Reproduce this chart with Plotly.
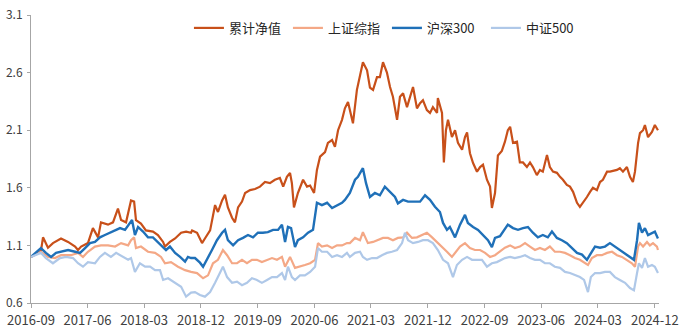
import plotly.graph_objects as go

# ---------------- data ----------------
fund_dates = ["2016-09-01","2016-10-19","2016-10-29","2016-11-22","2016-12-16","2017-01-24","2017-02-27","2017-04-02","2017-04-16","2017-05-01",
"2017-06-03","2017-06-27","2017-07-22","2017-08-05","2017-09-08","2017-10-02","2017-10-26","2017-11-10","2017-12-04","2017-12-28",
"2018-01-12","2018-01-21","2018-02-14","2018-03-10","2018-04-13","2018-05-07","2018-06-01","2018-06-10","2018-07-04","2018-07-29",
"2018-08-27","2018-09-20","2018-10-14","2018-10-19","2018-11-12","2018-12-06","2018-12-20","2019-01-14","2019-02-07","2019-02-21",
"2019-03-13","2019-03-27","2019-04-10","2019-04-30","2019-05-14","2019-05-29","2019-06-17","2019-07-02","2019-07-26","2019-08-19",
"2019-09-12","2019-10-06","2019-10-30","2019-11-23","2019-12-17","2020-01-02","2020-01-20","2020-02-04","2020-02-13","2020-02-23",
"2020-03-13","2020-04-07","2020-04-26","2020-05-11","2020-05-30","2020-06-13","2020-06-28","2020-07-22","2020-08-05","2020-08-25",
"2020-09-08","2020-09-23","2020-10-12","2020-10-26","2020-11-10","2020-11-24","2020-12-04","2020-12-23","2021-01-07","2021-01-21",
"2021-02-10","2021-02-24","2021-03-11","2021-03-30","2021-04-13","2021-04-28","2021-05-17","2021-06-01","2021-06-15","2021-07-05",
"2021-07-19","2021-08-03","2021-08-22","2021-09-05","2021-09-20","2021-10-09","2021-10-24","2021-11-07","2021-11-26","2021-12-11",
"2021-12-25","2022-01-14","2022-01-18","2022-02-07","2022-02-16","2022-02-26","2022-03-08","2022-03-27","2022-04-11","2022-04-25",
"2022-05-15","2022-05-29","2022-06-08","2022-06-22","2022-07-07","2022-07-26","2022-08-10","2022-08-24","2022-09-12","2022-09-27",
"2022-10-06","2022-10-21","2022-11-04","2022-11-23","2022-12-08","2022-12-22","2023-01-02","2023-01-16","2023-02-04","2023-02-18",
"2023-03-05","2023-03-24","2023-04-08","2023-04-22","2023-05-11","2023-05-26","2023-06-09","2023-06-29","2023-07-13","2023-07-28",
"2023-08-16","2023-08-31","2023-09-14","2023-10-03","2023-10-18","2023-11-02","2023-11-21","2023-12-05","2023-12-20","2024-01-08",
"2024-01-23","2024-02-06","2024-02-25","2024-03-11","2024-03-25","2024-04-14","2024-04-28","2024-05-13","2024-06-01","2024-06-15",
"2024-06-30","2024-07-19","2024-08-03","2024-08-17","2024-08-27","2024-09-11","2024-09-20","2024-10-05","2024-10-14","2024-10-29",
"2024-11-17","2024-12-01","2024-12-16"]
fund_values = [1.00,1.05,1.17,1.08,1.12,1.16,1.13,1.09,1.06,1.09,
1.12,1.25,1.17,1.30,1.28,1.30,1.42,1.32,1.30,1.49,
1.48,1.32,1.29,1.23,1.22,1.19,1.13,1.09,1.13,1.16,
1.21,1.22,1.21,1.23,1.21,1.12,1.16,1.23,1.45,1.39,
1.49,1.54,1.43,1.34,1.30,1.43,1.48,1.555,1.58,1.59,
1.61,1.65,1.64,1.67,1.685,1.61,1.695,1.73,1.64,1.43,
1.555,1.67,1.61,1.62,1.555,1.755,1.87,1.91,1.99,2.015,
1.955,2.10,2.19,2.29,2.345,2.22,2.16,2.45,2.56,2.69,
2.62,2.47,2.45,2.56,2.56,2.69,2.60,2.475,2.39,2.19,
2.39,2.42,2.30,2.39,2.475,2.29,2.335,2.36,2.275,2.25,
2.30,2.25,2.38,2.25,1.82,2.10,2.19,2.04,2.10,1.99,
1.93,2.04,2.08,1.90,1.815,1.74,1.78,1.80,1.67,1.61,
1.425,1.555,1.88,1.92,2.00,2.10,2.13,1.99,2.00,1.82,
1.82,1.78,1.82,1.78,1.71,1.755,1.74,1.885,1.78,1.74,
1.73,1.695,1.67,1.625,1.61,1.565,1.47,1.435,1.47,1.52,
1.565,1.60,1.58,1.65,1.67,1.74,1.74,1.745,1.755,1.77,
1.74,1.78,1.695,1.65,1.74,1.99,2.075,2.10,2.145,2.04,
2.085,2.145,2.10]

sh_dates = ["2016-09-01","2016-10-19","2016-11-22","2016-12-26","2017-01-24","2017-03-13","2017-04-16","2017-05-10","2017-06-03","2017-07-07",
"2017-08-05","2017-09-08","2017-10-12","2017-11-10","2017-12-14","2017-12-28","2018-01-12","2018-01-21","2018-02-14","2018-03-20",
"2018-04-23","2018-05-22","2018-06-10","2018-07-09","2018-08-12","2018-09-15","2018-10-14","2018-11-12","2018-12-11","2019-01-04",
"2019-01-28","2019-02-21","2019-03-17","2019-04-06","2019-04-30","2019-05-24","2019-06-17","2019-07-11","2019-08-04","2019-08-28",
"2019-09-21","2019-10-16","2019-11-09","2019-12-03","2019-12-27","2020-01-11","2020-02-04","2020-02-28","2020-03-23","2020-04-16",
"2020-05-11","2020-06-04","2020-06-18","2020-07-07","2020-08-01","2020-08-25","2020-09-18","2020-10-12","2020-11-05","2020-11-19",
"2020-12-14","2021-01-07","2021-01-21","2021-02-14","2021-03-11","2021-04-04","2021-04-28","2021-05-22","2021-06-15","2021-07-09",
"2021-08-03","2021-08-22","2021-09-15","2021-10-09","2021-11-02","2021-11-26","2021-12-21","2022-01-14","2022-02-07","2022-03-03",
"2022-03-27","2022-04-11","2022-05-05","2022-05-29","2022-06-22","2022-07-16","2022-08-10","2022-09-03","2022-09-27","2022-10-21",
"2022-11-14","2022-12-08","2023-01-02","2023-01-25","2023-02-18","2023-03-15","2023-04-08","2023-05-02","2023-05-26","2023-06-19",
"2023-07-13","2023-08-06","2023-08-31","2023-09-24","2023-10-18","2023-11-11","2023-12-05","2023-12-30","2024-01-13","2024-02-01",
"2024-02-25","2024-03-20","2024-04-14","2024-05-08","2024-06-01","2024-06-25","2024-07-19","2024-08-12","2024-08-27","2024-09-11",
"2024-09-20","2024-10-05","2024-10-24","2024-11-07","2024-11-22","2024-12-11","2024-12-16"]
sh_values = [1.00,1.045,1.00,0.99,1.015,1.015,1.035,1.00,1.045,1.09,
1.10,1.10,1.09,1.12,1.10,1.145,1.17,1.077,1.09,1.045,
1.035,1.00,0.945,0.955,0.915,0.885,0.87,0.86,0.815,0.84,
0.945,0.975,1.06,1.015,0.945,0.945,0.975,0.945,0.975,0.975,
0.955,0.975,0.99,0.975,1.00,0.915,1.00,0.905,0.915,0.93,
0.945,0.975,1.12,1.09,1.10,1.077,1.10,1.10,1.12,1.12,
1.165,1.145,1.215,1.12,1.13,1.145,1.165,1.165,1.145,1.165,
1.17,1.21,1.165,1.17,1.19,1.21,1.17,1.13,1.09,1.045,
1.00,1.035,1.09,1.12,1.077,1.06,1.06,1.035,1.00,1.015,
1.05,1.08,1.10,1.077,1.09,1.12,1.09,1.06,1.077,1.06,
1.09,1.045,1.045,1.035,1.015,0.99,0.975,0.945,0.93,0.99,
1.015,1.015,1.035,1.045,1.015,1.00,0.975,0.945,0.915,1.09,
1.12,1.09,1.13,1.10,1.12,1.09,1.06]

hs_dates = ["2016-09-01","2016-10-19","2016-11-12","2016-12-07","2016-12-31","2017-01-24","2017-02-27","2017-04-02","2017-04-26","2017-05-20",
"2017-06-13","2017-07-07","2017-07-31","2017-08-24","2017-09-18","2017-10-12","2017-11-05","2017-11-29","2017-12-23","2018-01-02",
"2018-01-16","2018-01-31","2018-02-24","2018-03-20","2018-04-13","2018-05-07","2018-06-01","2018-06-15","2018-07-04","2018-07-29",
"2018-08-22","2018-09-15","2018-09-29","2018-10-14","2018-11-02","2018-11-26","2018-12-11","2018-12-30","2019-01-23","2019-02-16",
"2019-03-13","2019-03-27","2019-04-10","2019-05-05","2019-05-29","2019-06-22","2019-07-16","2019-08-09","2019-09-02","2019-09-26",
"2019-10-20","2019-11-14","2019-12-08","2019-12-27","2020-01-11","2020-01-25","2020-02-09","2020-02-28","2020-03-13","2020-04-07",
"2020-05-01","2020-05-25","2020-06-13","2020-07-07","2020-08-01","2020-08-25","2020-09-18","2020-10-12","2020-10-26","2020-11-19",
"2020-12-14","2020-12-28","2021-01-16","2021-01-21","2021-02-05","2021-02-24","2021-03-20","2021-04-13","2021-05-07","2021-06-01",
"2021-06-25","2021-07-09","2021-08-03","2021-08-27","2021-09-20","2021-10-24","2021-11-17","2021-12-11","2022-01-04","2022-01-28",
"2022-02-12","2022-03-03","2022-03-17","2022-04-11","2022-05-05","2022-05-29","2022-06-12","2022-07-07","2022-07-31","2022-08-24",
"2022-09-17","2022-10-06","2022-10-21","2022-11-14","2022-12-08","2022-12-22","2023-01-16","2023-02-09","2023-03-05","2023-03-29",
"2023-04-22","2023-05-16","2023-06-09","2023-07-03","2023-07-23","2023-08-16","2023-09-09","2023-10-03","2023-10-28","2023-11-21",
"2023-12-15","2024-01-08","2024-01-23","2024-02-16","2024-03-11","2024-04-04","2024-04-28","2024-05-22","2024-06-15","2024-07-10",
"2024-08-03","2024-08-22","2024-09-06","2024-09-15","2024-09-30","2024-10-14","2024-10-29","2024-11-17","2024-12-01","2024-12-16"]
hs_values = [1.00,1.077,1.035,1.00,1.035,1.045,1.06,1.045,1.035,1.077,
1.12,1.13,1.17,1.19,1.21,1.235,1.25,1.235,1.295,1.32,
1.19,1.26,1.22,1.17,1.17,1.13,1.09,1.06,1.09,1.035,
1.00,0.96,1.00,0.99,0.99,0.95,0.915,0.975,1.06,1.145,
1.21,1.235,1.145,1.10,1.145,1.165,1.19,1.17,1.21,1.21,
1.215,1.235,1.235,1.28,1.13,1.26,1.25,1.085,1.145,1.17,
1.21,1.235,1.47,1.45,1.47,1.425,1.45,1.47,1.495,1.555,
1.67,1.695,1.755,1.77,1.64,1.52,1.555,1.535,1.61,1.565,
1.52,1.465,1.495,1.48,1.48,1.48,1.535,1.495,1.435,1.39,
1.295,1.235,1.26,1.17,1.28,1.365,1.295,1.26,1.235,1.19,
1.145,1.085,1.165,1.18,1.24,1.28,1.25,1.235,1.25,1.26,
1.21,1.17,1.19,1.17,1.22,1.165,1.145,1.12,1.077,1.035,
1.02,0.975,1.02,1.09,1.08,1.09,1.12,1.09,1.06,1.035,
1.00,0.975,1.145,1.295,1.21,1.25,1.19,1.21,1.22,1.16]

zz_dates = ["2016-09-01","2016-10-19","2016-11-12","2016-12-16","2017-01-19","2017-02-17","2017-03-23","2017-04-16","2017-05-10","2017-06-03",
"2017-07-07","2017-07-31","2017-08-24","2017-09-22","2017-10-17","2017-11-19","2017-12-14","2017-12-28","2018-01-16","2018-02-09",
"2018-03-06","2018-03-30","2018-04-23","2018-05-17","2018-06-01","2018-06-25","2018-07-29","2018-08-27","2018-09-20","2018-10-14",
"2018-11-02","2018-11-26","2018-12-20","2019-01-14","2019-02-07","2019-03-03","2019-03-17","2019-04-06","2019-04-30","2019-05-24",
"2019-06-17","2019-07-11","2019-08-04","2019-08-28","2019-09-21","2019-10-16","2019-11-09","2019-12-03","2019-12-27","2020-01-11",
"2020-01-25","2020-02-13","2020-02-28","2020-03-23","2020-04-16","2020-05-11","2020-06-04","2020-06-18","2020-07-07","2020-08-01",
"2020-08-25","2020-09-18","2020-10-12","2020-11-05","2020-11-19","2020-12-14","2021-01-07","2021-01-21","2021-02-10","2021-03-06",
"2021-03-30","2021-04-23","2021-05-17","2021-06-10","2021-07-05","2021-07-29","2021-08-12","2021-08-27","2021-09-20","2021-10-14",
"2021-11-07","2021-12-01","2021-12-25","2022-01-18","2022-02-12","2022-03-08","2022-04-01","2022-04-20","2022-05-15","2022-06-08",
"2022-07-02","2022-07-26","2022-08-19","2022-09-12","2022-10-06","2022-10-30","2022-11-23","2022-12-08","2023-01-02","2023-01-25",
"2023-02-18","2023-03-15","2023-04-08","2023-05-02","2023-05-26","2023-06-19","2023-07-13","2023-08-06","2023-08-31","2023-09-24",
"2023-10-18","2023-11-11","2023-12-05","2023-12-25","2024-01-13","2024-01-27","2024-02-16","2024-03-11","2024-04-04","2024-04-28",
"2024-05-22","2024-06-15","2024-07-10","2024-08-03","2024-08-22","2024-09-06","2024-09-15","2024-09-30","2024-10-14","2024-10-29",
"2024-11-17","2024-12-01","2024-12-16"]
zz_values = [1.00,1.035,0.99,0.945,0.99,1.00,0.99,0.945,0.915,0.955,
0.945,1.00,1.035,1.00,1.035,1.00,0.975,0.99,0.87,0.945,
0.915,0.915,0.885,0.885,0.80,0.815,0.775,0.74,0.655,0.69,
0.695,0.67,0.655,0.695,0.775,0.86,0.915,0.825,0.775,0.785,
0.755,0.775,0.815,0.80,0.775,0.80,0.825,0.825,0.86,0.80,
0.915,0.825,0.80,0.84,0.84,0.87,0.915,1.077,1.045,1.045,
1.00,1.015,1.00,1.035,1.00,1.035,1.045,1.00,0.975,0.99,
0.99,1.015,1.035,1.045,1.06,1.12,1.21,1.145,1.12,1.13,
1.145,1.145,1.12,1.06,0.975,0.945,0.825,0.93,0.975,1.00,
0.975,0.975,0.975,0.915,0.945,0.955,0.98,0.99,1.00,0.99,
1.00,1.015,0.99,0.975,0.975,0.945,0.945,0.915,0.905,0.87,
0.86,0.84,0.825,0.80,0.695,0.825,0.86,0.86,0.87,0.87,
0.825,0.80,0.775,0.73,0.71,0.86,0.945,0.905,0.99,0.915,
0.93,0.915,0.86]

series_names = ["累计净值", "上证综指", "沪深300", "中证500"]
x_tick_labels = ["2016-09","2017-06","2018-03","2018-12","2019-09","2020-06",
                 "2021-03","2021-12","2022-09","2023-06","2024-03","2024-12"]
y_ticks = [0.6, 1.1, 1.6, 2.1, 2.6, 3.1]

# ---------------- styling ----------------
colors = ["#C8501A", "#F4A886", "#1F70B8", "#AFC8E8"]
widths = [2.2, 2.2, 2.4, 2.2]
FONT = "Noto Sans CJK SC, Noto Sans, sans-serif"
AXIS_COLOR = "#A6A6A6"

fig = go.Figure()
for name, xs, ys, c, w in zip(series_names,
                              [fund_dates, sh_dates, hs_dates, zz_dates],
                              [fund_values, sh_values, hs_values, zz_values],
                              colors, widths):
    fig.add_trace(go.Scatter(x=xs, y=ys, mode="lines", name=name,
                             line=dict(color=c, width=w)))

fig.update_layout(
    width=686, height=332,
    margin=dict(l=31, r=27, t=15, b=29, autoexpand=False),
    paper_bgcolor="white", plot_bgcolor="white",
    font=dict(family=FONT, color="#404040"),
    showlegend=True,
    legend=dict(orientation="h", x=0.2515, xanchor="left", y=0.955, yanchor="middle",
                font=dict(size=13, color="#262626", family=FONT),
                bgcolor="rgba(0,0,0,0)", itemwidth=30, entrywidth=54),
)
fig.update_xaxes(
    type="date", range=["2016-09-01", "2024-12-21"], automargin=False,
    tickvals=[t + "-01" for t in x_tick_labels], ticktext=x_tick_labels,
    showgrid=False, zeroline=False, showline=True, linecolor=AXIS_COLOR, linewidth=1,
    ticks="outside", ticklen=4, tickcolor=AXIS_COLOR, ticklabelstandoff=1,
    tickfont=dict(size=13, color="#404040", family=FONT),
)
fig.update_yaxes(
    range=[0.6, 3.1], tickvals=y_ticks, ticktext=[f"{v:.1f}" for v in y_ticks],
    automargin=False,
    showgrid=False, zeroline=False, showline=True, linecolor=AXIS_COLOR, linewidth=1,
    ticks="outside", ticklen=3, tickcolor=AXIS_COLOR, ticklabelstandoff=2,
    tickfont=dict(size=12, color="#404040", family=FONT),
)

fig.write_html("out.html")
